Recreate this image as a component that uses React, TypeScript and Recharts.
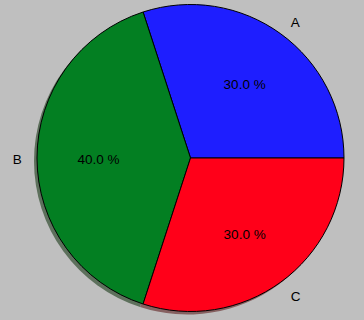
import React from "react";
import { PieChart, Pie, Cell } from "recharts";

const categories = ["A", "B", "C"];
const values = [30, 40, 30];
const colors = ["#1e1eff", "#037f22", "#ff0019"];
const shadowColors = ["#5f5f88", "#5d705c", "#866060"];

const data = categories.map((name, i) => ({ name, value: values[i] }));

const RAD = Math.PI / 180;
const CX = 190.5;
const CY = 158;
const R = 153.5;
const FONT = "'Liberation Sans', Arial, sans-serif";

const renderLabel = (props: any) => {
  const { cx, cy, midAngle, outerRadius, percent, name } = props;
  const c = Math.cos(-midAngle * RAD);
  const s = Math.sin(-midAngle * RAD);
  const lx = cx + outerRadius * 1.1 * c;
  const ly = cy + outerRadius * 1.1 * s;
  const px = cx + outerRadius * 0.6 * c;
  const py = cy + outerRadius * 0.6 * s;
  return (
    <g>
      <text
        x={lx + (c > 0 ? 1 : 0)}
        y={ly + 1.5}
        textAnchor={c > 0 ? "start" : "end"}
        dominantBaseline="central"
        fontFamily={FONT}
        fontSize={13.5}
        fill="#000"
      >
        {name}
      </text>
      <text
        x={px}
        y={py + 1.5}
        textAnchor="middle"
        dominantBaseline="central"
        fontFamily={FONT}
        fontSize={13.5}
        fill="#000"
      >
        {(percent * 100).toFixed(1) + " %"}
      </text>
    </g>
  );
};

export default function App() {
  return (
    <div
      style={{
        position: "absolute",
        left: 0,
        top: 0,
        width: 364,
        height: 320,
        background: "#bfbfbf",
      }}
    >
      <PieChart width={364} height={320} margin={{ top: 0, right: 0, bottom: 0, left: 0 }}>
        <Pie
          data={data}
          dataKey="value"
          nameKey="name"
          cx={CX - 3}
          cy={CY + 3}
          outerRadius={R}
          startAngle={0}
          endAngle={360}
          isAnimationActive={false}
          label={false}
          labelLine={false}
          stroke="none"
        >
          {data.map((d, i) => (
            <Cell key={d.name} fill={shadowColors[i]} stroke="none" />
          ))}
        </Pie>
        <Pie
          data={data}
          dataKey="value"
          nameKey="name"
          cx={CX}
          cy={CY}
          outerRadius={R}
          startAngle={0}
          endAngle={360}
          isAnimationActive={false}
          label={renderLabel}
          labelLine={false}
        >
          {data.map((d, i) => (
            <Cell key={d.name} fill={colors[i]} stroke="#000" strokeWidth={1} />
          ))}
        </Pie>
      </PieChart>
    </div>
  );
}
